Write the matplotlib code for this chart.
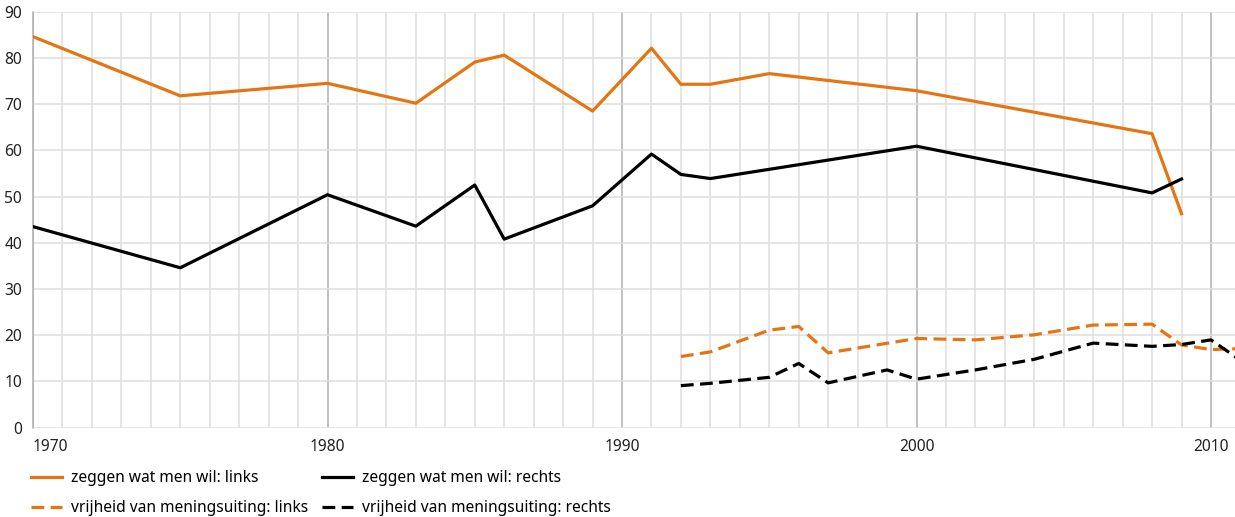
import matplotlib.pyplot as plt
from matplotlib.ticker import MultipleLocator

plt.rcParams['font.family'] = ['Noto Sans', 'DejaVu Sans']

ORANGE = '#E57512'
BLACK = '#000000'

# zeggen wat men wil (say what one wants)
years_say = [1970, 1975, 1980, 1983, 1985, 1986, 1989, 1991, 1992, 1993, 1995, 2000, 2008, 2009]
say_left = [84.6, 71.8, 74.5, 70.2, 79.1, 80.6, 68.5, 82.1, 74.3, 74.3, 76.6, 72.9, 63.6, 46.3]
years_say_right = [1970, 1975, 1980, 1983, 1985, 1986, 1989, 1991, 1992, 1993, 2000, 2008, 2009]
say_right = [43.5, 34.6, 50.4, 43.6, 52.5, 40.8, 48.0, 59.2, 54.8, 53.9, 60.9, 50.8, 53.8]

# vrijheid van meningsuiting (freedom of expression)
years_free_left = [1992, 1993, 1995, 1996, 1997, 2000, 2002, 2004, 2006, 2008, 2009, 2010, 2011]
free_left = [15.4, 16.4, 21.1, 21.9, 16.2, 19.3, 19.0, 20.1, 22.2, 22.4, 17.9, 16.9, 17.1]
years_free_right = [1992, 1993, 1995, 1996, 1997, 1999, 2000, 2002, 2004, 2006, 2008, 2009, 2010, 2011]
free_right = [9.1, 9.6, 10.9, 13.9, 9.7, 12.5, 10.5, 12.5, 14.8, 18.3, 17.6, 18.0, 19.0, 14.6]

x_ticks = [1970, 1980, 1990, 2000, 2010]
y_ticks = [0, 10, 20, 30, 40, 50, 60, 70, 80, 90]

fig = plt.figure(figsize=(12.35, 5.17), dpi=100)
ax = fig.add_axes([33 / 1235, (517 - 427.7) / 517, 1 - 33 / 1235, (427.7 - 11.7) / 517])

lw = 2.3
dash = (0, (4, 2))
l1, = ax.plot(years_say, say_left, color=ORANGE, lw=lw, label='zeggen wat men wil: links', zorder=3)
l3, = ax.plot(years_free_left, free_left, color=ORANGE, lw=lw, ls=dash,
              label='vrijheid van meningsuiting: links', zorder=3)
l2, = ax.plot(years_say_right, say_right, color=BLACK, lw=lw, label='zeggen wat men wil: rechts', zorder=3)
l4, = ax.plot(years_free_right, free_right, color=BLACK, lw=lw, ls=dash,
              label='vrijheid van meningsuiting: rechts', zorder=3)

ax.set_xlim(1970, 1970 + (1235 - 33) / 29.45)
ax.set_ylim(0, 90)

# grid: yearly light lines, decades darker
ax.xaxis.set_minor_locator(MultipleLocator(1))
ax.set_xticks(x_ticks)
ax.set_yticks(y_ticks)
ax.grid(which='minor', axis='x', color='#dedede', lw=1.1, zorder=0)
ax.grid(which='major', axis='x', color='#b3adb0', lw=1.1, zorder=1)
ax.grid(which='major', axis='y', color='#dedede', lw=1.1, zorder=0)

for s in ['top', 'right', 'bottom']:
    ax.spines[s].set_visible(False)
ax.spines['left'].set_color('#b3adb0')
ax.spines['left'].set_linewidth(1.1)

ax.tick_params(which='both', length=0)
ax.tick_params(axis='x', pad=8, labelsize=11.2, colors='#222222')
ax.tick_params(axis='y', pad=8, labelsize=11.2, colors='#222222')
labels = ax.get_xticklabels()
labels[0].set_horizontalalignment('left')

fig.legend(handles=[l1, l3, l2, l4], loc='lower left', bbox_to_anchor=(20 / 1235, -10 / 517),
           ncol=2, frameon=False, fontsize=11.2, handlelength=2.0, handletextpad=0.6,
           columnspacing=0.85, labelspacing=0.9, borderaxespad=0.3)

fig.savefig('out.png', dpi=100)
